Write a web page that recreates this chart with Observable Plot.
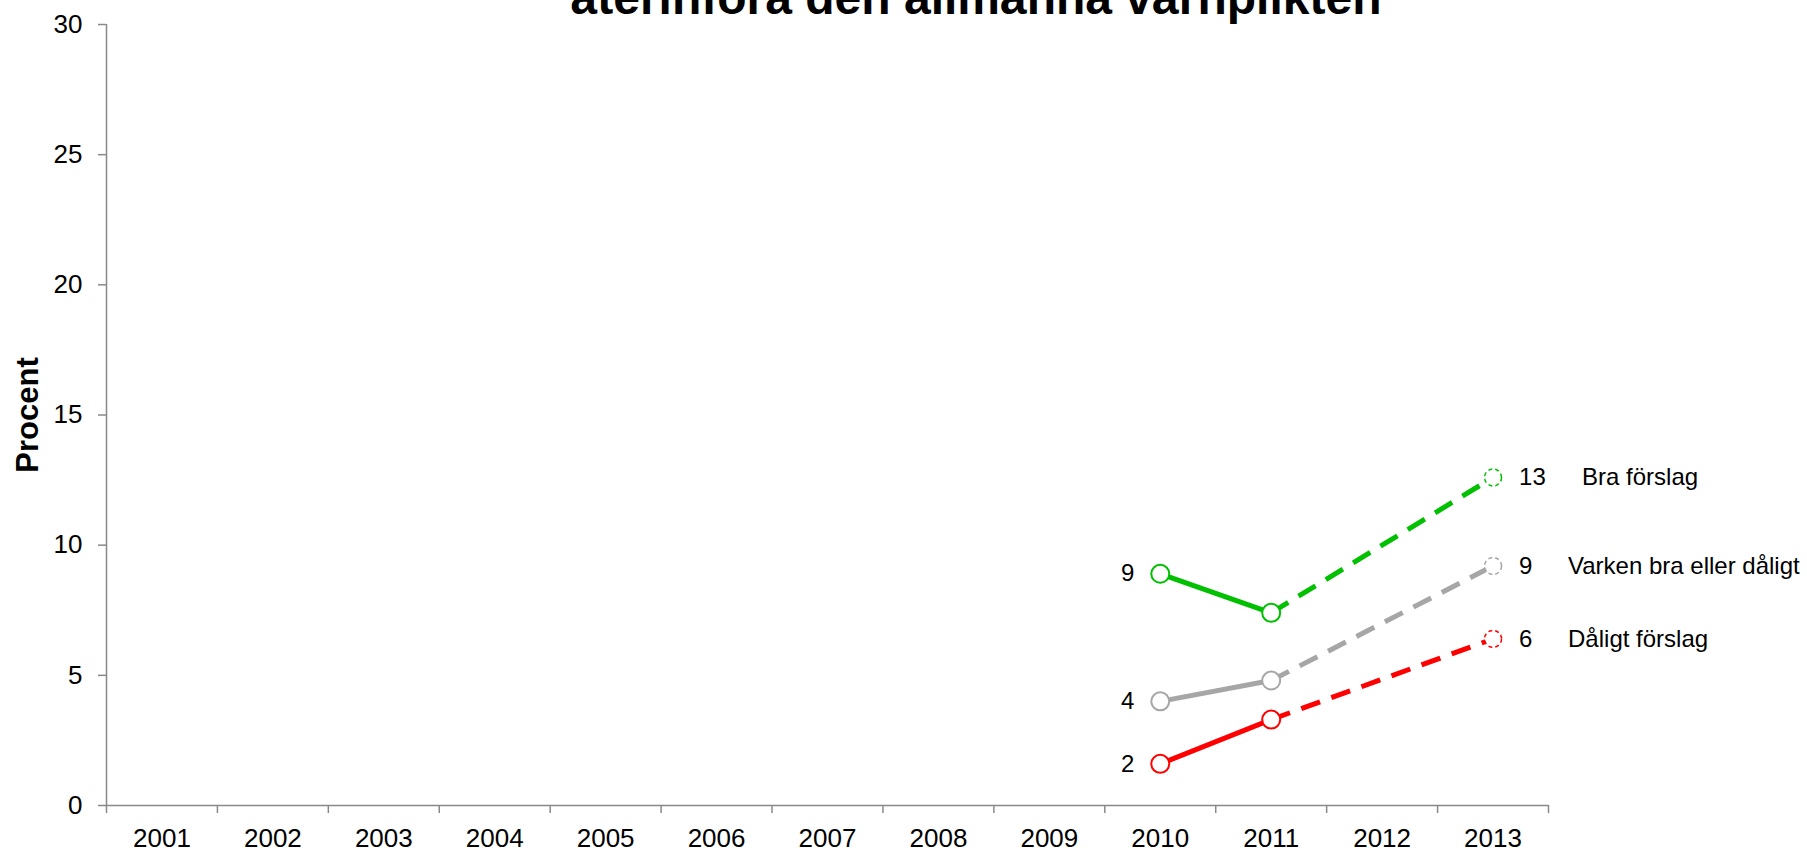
<!DOCTYPE html>
<html>
<head>
<meta charset="utf-8">
<script src="https://cdn.jsdelivr.net/npm/d3@7"></script>
<script src="https://cdn.jsdelivr.net/npm/@observablehq/plot@0.6"></script>
<style>
html, body { margin: 0; padding: 0; background: #fff; overflow: hidden; }
#wrap { position: relative; width: 1807px; height: 851px; }
#title { position: absolute; left: 976px; top: -26px; transform: translateX(-50%); white-space: nowrap;
  font: bold 48px "Liberation Sans", Arial, sans-serif; line-height: 48px; color: #000; z-index: 2; }
#chart { position: absolute; left: 0; top: 0; }
</style>
</head>
<body>
<div id="wrap">
  <div id="chart"></div>
  <div id="title">återinföra den allmänna värnplikten</div>
</div>
<script>
// ---- data ----
const years = [2001, 2002, 2003, 2004, 2005, 2006, 2007, 2008, 2009, 2010, 2011, 2012, 2013];
const yTicks = [0, 5, 10, 15, 20, 25, 30];
const yLabel = "Procent";
const seriesNames = ["Bra förslag", "Varken bra eller dåligt", "Dåligt förslag"];
const measuredYears = [2010, 2011, 2013];
const braValues = [8.9, 7.4, 12.6];
const varkenValues = [4.0, 4.8, 9.2];
const daligtValues = [1.6, 3.3, 6.4];
const startLabels = ["9", "4", "2"];
const endLabels = ["13", "9", "6"];

// ---- styles ----
const colors = ["#00c000", "#a6a6a6", "#ff0000"];
const nameOffsets = [89, 75, 75];
const axisColor = "#898989";

const allValues = [braValues, varkenValues, daligtValues];
const rows = [];
seriesNames.forEach((s, i) => {
  measuredYears.forEach((yr, j) => rows.push({series: s, idx: i, year: yr, value: allValues[i][j], pos: j}));
});
const solidRows = rows.filter(d => d.pos <= 1);
const dashedRows = rows.filter(d => d.pos >= 1);
const firstRows = rows.filter(d => d.pos === 0);
const lastRows = rows.filter(d => d.pos === measuredYears.length - 1);
const boundaries = years.map(y => y - 0.5).concat([years[years.length - 1] + 0.5]);

const chart = Plot.plot({
  width: 1807,
  height: 851,
  marginLeft: 106,
  marginRight: 259,
  marginTop: 24,
  marginBottom: 46,
  x: {domain: [years[0] - 0.5, years[years.length - 1] + 0.5], axis: null},
  y: {domain: [0, 30], axis: null},
  color: {domain: seriesNames, range: colors},
  style: {fontFamily: "'Liberation Sans', Arial, sans-serif", fontSize: "24px", color: "#000", background: "#fff", overflow: "visible"},
  marks: [
    Plot.axisY({ticks: yTicks, tickSize: 8, tickPadding: 16, stroke: axisColor, strokeWidth: 1.5, fontSize: 26, label: null, tickFormat: d => String(d)}),
    Plot.axisX({ticks: years, tickSize: 0, tickPadding: 23, fontSize: 26, label: null, tickFormat: d => String(d)}),
    Plot.axisX({ticks: boundaries, tickSize: 8, stroke: axisColor, strokeWidth: 1.5, label: null, tickFormat: () => ""}),
    Plot.ruleY([0], {stroke: axisColor, strokeWidth: 1.5}),
    Plot.ruleX([years[0] - 0.5], {stroke: axisColor, strokeWidth: 1.5}),
    Plot.text([yLabel], {frameAnchor: "left", dx: -78, rotate: -90, fontWeight: "bold", fontSize: 31, textAnchor: "middle", lineAnchor: "middle"}),
    Plot.line(dashedRows, {x: "year", y: "value", z: "series", stroke: "series", strokeWidth: 5, strokeDasharray: "20,12", strokeLinecap: "butt"}),
    Plot.line(solidRows, {x: "year", y: "value", z: "series", stroke: "series", strokeWidth: 5}),
    Plot.dot(solidRows, {x: "year", y: "value", stroke: "series", fill: "#fff", r: 9, strokeWidth: 2}),
    Plot.dot(lastRows, {x: "year", y: "value", stroke: "series", fill: "#fff", r: 8.5, strokeWidth: 1.5, strokeDasharray: "4,3"}),
    Plot.text(firstRows, {x: "year", y: "value", text: d => startLabels[d.idx], dx: -26, textAnchor: "end", fontSize: 24, fill: "#000"}),
    Plot.text(lastRows, {x: "year", y: "value", text: d => endLabels[d.idx], dx: 26, textAnchor: "start", fontSize: 24, fill: "#000"}),
    ...seriesNames.map((name, i) => Plot.text(lastRows.filter(d => d.idx === i), {x: "year", y: "value", text: () => name, dx: nameOffsets[i], textAnchor: "start", fontSize: 24, fill: "#000"}))
  ]
});
document.getElementById("chart").appendChild(chart);
</script>
</body>
</html>
